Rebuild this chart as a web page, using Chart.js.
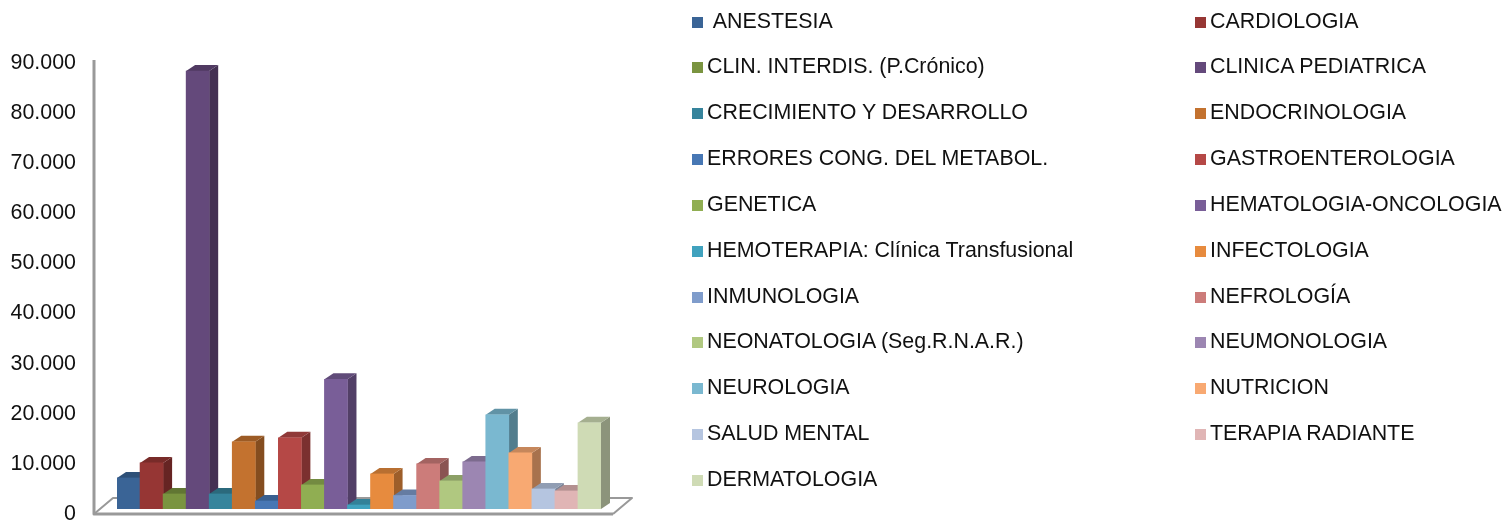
<!DOCTYPE html>
<html><head><meta charset="utf-8">
<script src="https://cdn.jsdelivr.net/npm/chart.js@4/dist/chart.umd.min.js"></script>
<style>
html,body{margin:0;padding:0;background:#fff;overflow:hidden}
#wrap{position:relative;width:1506px;height:521px}
#legend{position:absolute;left:0;top:0;font:21.4px "Liberation Sans",Arial,sans-serif;color:#111}
.it{position:absolute;white-space:pre;line-height:24px;height:24px}
.sw{position:absolute;width:11px;height:11px}
</style></head><body>
<div id="wrap"><canvas id="c" width="1506" height="521"></canvas><div id="legend"></div></div>
<script>
const categories=[" ANESTESIA","CARDIOLOGIA","CLIN. INTERDIS. (P.Crónico)","CLINICA PEDIATRICA","CRECIMIENTO Y DESARROLLO","ENDOCRINOLOGIA","ERRORES CONG. DEL METABOL.","GASTROENTEROLOGIA","GENETICA","HEMATOLOGIA-ONCOLOGIA","HEMOTERAPIA: Clínica Transfusional","INFECTOLOGIA","INMUNOLOGIA","NEFROLOGÍA","NEONATOLOGIA (Seg.R.N.A.R.)","NEUMONOLOGIA","NEUROLOGIA","NUTRICION","SALUD MENTAL","TERAPIA RADIANTE","DERMATOLOGIA"];
const values=[6200,9200,3000,87400,3000,13400,1600,14200,4800,25900,800,7000,2700,9000,5600,9400,18800,11200,4000,3600,17200];
const colors=["#3A6496","#963634","#7A9440","#64497B","#36849C","#C3722F","#4777B4","#B54846","#90AE52","#795E98","#40A2BE","#E78B3E","#7F9CCB","#CC7C7A","#B0C880","#9C86B2","#7AB8D0","#F8A972","#B5C5E0","#E0B5B5","#CFDBB5"];
const yTicks=[0,10000,20000,30000,40000,50000,60000,70000,80000,90000];
const fmt=v=>v===0?"0":String(v/1000)+".000";
function shade(hex,f){const n=parseInt(hex.slice(1),16);return `rgb(${(n>>16)*f|0},${((n>>8)&255)*f|0},${(n&255)*f|0})`;}
const depthX=9,depthY=6;
const box3d={id:'box3d',
 beforeDatasetsDraw(chart){
  const {ctx}=chart,y=chart.scales.y,x0=y.getPixelForValue(0);
  const L=94,R=613,front=x0+5,back=x0-11,dx=19;
  ctx.save();
  ctx.strokeStyle='#999';ctx.lineJoin='round';
  ctx.lineWidth=2;ctx.beginPath();ctx.moveTo(L,front);ctx.lineTo(L+dx,back);ctx.lineTo(R+dx,back);ctx.lineTo(R,front);ctx.stroke();
  ctx.lineWidth=3;ctx.beginPath();ctx.moveTo(L,y.getPixelForValue(90000)+2);ctx.lineTo(L,front);ctx.lineTo(R,front);ctx.stroke();
  const meta=chart.getDatasetMeta(0);
  meta.data.forEach((b,i)=>{
   const p=b.getProps(['x','y','base','width'],true),r=p.x+p.width/2,l=p.x-p.width/2,t=p.y,bs=p.base;
   ctx.fillStyle=shade(colors[i],0.68);
   ctx.beginPath();ctx.moveTo(r,t);ctx.lineTo(r+depthX,t-depthY);ctx.lineTo(r+depthX,bs-depthY);ctx.lineTo(r,bs);ctx.closePath();ctx.fill();
   ctx.fillStyle=shade(colors[i],0.8);
   ctx.beginPath();ctx.moveTo(l,t);ctx.lineTo(l+depthX,t-depthY);ctx.lineTo(r+depthX,t-depthY);ctx.lineTo(r,t);ctx.closePath();ctx.fill();
  });
  ctx.restore();
 }};
new Chart(document.getElementById('c'),{
 type:'bar',
 data:{labels:categories,datasets:[{data:values,backgroundColor:colors,barPercentage:1,categoryPercentage:1,borderWidth:0}]},
 options:{responsive:false,animation:false,
  layout:{padding:{left:0,right:905,top:58,bottom:12}},
  plugins:{legend:{display:false},tooltip:{enabled:false}},
  scales:{
   x:{display:false,ticks:{display:false},grid:{display:false,drawTicks:false}},
   y:{min:0,max:90000,afterFit(s){s.width=117;s.paddingTop=0;s.paddingBottom=0;},
      afterBuildTicks(s){s.ticks=yTicks.map(v=>({value:v}));},
      grid:{display:false,drawTicks:false},border:{display:false},
      ticks:{callback:fmt,color:'#111',font:{family:'"Liberation Sans",Arial,sans-serif',size:21.4},padding:41,labelOffset:5}}
  }},
 plugins:[box3d]});
const lg=document.getElementById('legend');
const rowY=[21,66,112,158,204,250,296,341,387,433,479];
categories.forEach((name,i)=>{
 const col=i%2,row=(i-col)/2,cy=rowY[row];
 const sx=col?1195:692,tx=col?1210:707;
 const s=document.createElement('div');s.className='sw';s.style.cssText=`left:${sx}px;top:${cy-4}px;background:${colors[i]}`;
 const t=document.createElement('div');t.className='it';t.textContent=name;t.style.cssText=`left:${i===0?tx+1:tx}px;top:${cy-12}px`;
 lg.append(s,t);
});
</script></body></html>
